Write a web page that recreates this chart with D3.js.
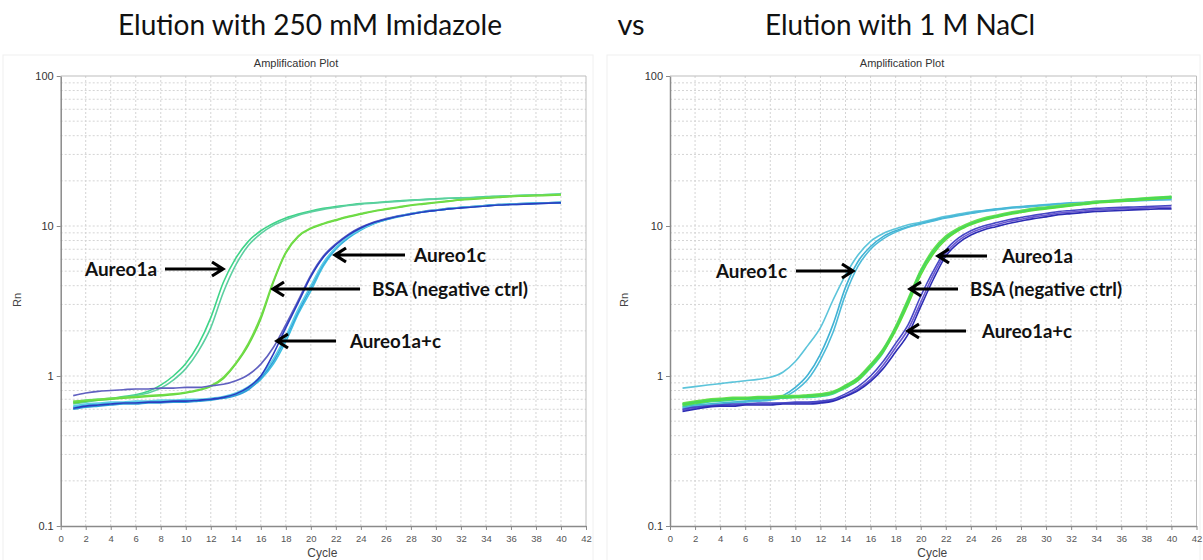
<!DOCTYPE html>
<html>
<head>
<meta charset="utf-8">
<script src="https://cdn.jsdelivr.net/npm/d3@7"></script>
<style>
  html, body { margin: 0; padding: 0; background: #fff; }
  svg { display: block; }
</style>
</head>
<body>
<svg id="chart" width="1203" height="560"></svg>
<script>
// qPCR amplification curves (Rn per cycle), two elution conditions

const cycles = d3.range(1, 41);

const xTicks = d3.range(0, 43, 2);
const yTicks = [0.1, 1, 10, 100];
const yTickLabels = ["0.1", "1", "10", "100"];

const panelTitles = ["Elution with 250 mM Imidazole", "Elution with 1 M NaCl"];
const separatorText = "vs";
const plotTitle = "Amplification Plot";
const xLabel = "Cycle";
const yLabel = "Rn";

// ---- 250 mM imidazole elution ----
const imiAureo1a_1 = [0.67,0.69,0.70,0.71,0.73,0.75,0.79,0.87,1.00,1.21,1.62,2.45,4.2,6.1,7.9,9.3,10.4,11.3,12.0,12.6,13.1,13.5,13.8,14.1,14.3,14.5,14.7,14.9,15.0,15.2,15.3,15.4,15.5,15.7,15.8,15.9,16.0,16.1,16.2,16.3];
const imiAureo1a_2 = [0.65,0.67,0.69,0.70,0.72,0.74,0.77,0.83,0.94,1.12,1.46,2.1,3.6,5.5,7.4,8.9,10.1,11.0,11.8,12.4,12.9,13.3,13.7,14.0,14.2,14.4,14.6,14.8,15.0,15.1,15.3,15.4,15.5,15.6,15.8,15.9,16.0,16.1,16.2,16.3];
const imiBSA_1 = [0.66,0.68,0.69,0.70,0.71,0.72,0.73,0.74,0.75,0.77,0.80,0.85,0.96,1.2,1.6,2.4,4.2,6.6,8.5,9.6,10.3,10.9,11.5,12.0,12.5,12.9,13.3,13.7,14.0,14.3,14.6,14.9,15.1,15.3,15.5,15.7,15.8,15.9,16.0,16.1];
const imiBSA_2 = [0.68,0.69,0.70,0.71,0.72,0.73,0.74,0.75,0.76,0.78,0.81,0.86,0.98,1.22,1.65,2.5,4.3,6.7,8.6,9.7,10.4,11.0,11.6,12.1,12.6,13.0,13.4,13.8,14.1,14.4,14.7,15.0,15.2,15.4,15.6,15.8,15.9,16.0,16.1,16.2];
const imiAureo1c_1 = [0.61,0.63,0.64,0.65,0.66,0.66,0.67,0.67,0.68,0.68,0.69,0.70,0.72,0.76,0.84,1.0,1.4,2.1,3.1,4.6,6.2,7.5,8.7,9.7,10.5,11.1,11.6,12.0,12.4,12.7,13.0,13.2,13.4,13.6,13.8,13.9,14.0,14.1,14.2,14.3];
const imiAureo1c_2 = [0.74,0.77,0.79,0.80,0.81,0.82,0.82,0.83,0.83,0.84,0.84,0.86,0.88,0.93,1.02,1.2,1.55,2.2,3.2,4.7,6.3,7.6,8.8,9.8,10.6,11.2,11.7,12.1,12.5,12.8,13.1,13.3,13.5,13.7,13.9,14.0,14.1,14.2,14.3,14.4];
const imiAureo1ac_1 = [0.62,0.64,0.65,0.66,0.66,0.67,0.67,0.68,0.68,0.69,0.69,0.70,0.72,0.75,0.82,0.95,1.2,1.7,2.6,3.7,5.4,7.0,8.3,9.4,10.3,11.0,11.5,12.0,12.4,12.7,13.0,13.3,13.5,13.7,13.9,14.0,14.1,14.2,14.3,14.4];
const imiAureo1ac_2 = [0.63,0.65,0.66,0.67,0.67,0.68,0.68,0.69,0.69,0.70,0.70,0.71,0.73,0.77,0.85,1.0,1.3,1.85,2.8,4.0,5.7,7.2,8.5,9.5,10.4,11.1,11.6,12.1,12.5,12.8,13.1,13.3,13.5,13.7,13.9,14.0,14.1,14.2,14.3,14.4];
const imiAureo1ac_3 = [0.60,0.62,0.63,0.64,0.65,0.65,0.66,0.66,0.67,0.67,0.68,0.69,0.71,0.74,0.81,0.97,1.25,1.8,2.7,3.9,5.6,7.1,8.4,9.5,10.4,11.0,11.6,12.0,12.4,12.7,13.0,13.2,13.4,13.6,13.8,13.9,14.0,14.1,14.2,14.2];

// ---- 1 M NaCl elution ----
const naclAureo1c_1 = [0.83,0.85,0.87,0.89,0.91,0.93,0.95,0.98,1.06,1.25,1.6,2.1,3.2,4.7,6.4,7.9,8.9,9.6,10.2,10.6,11.1,11.6,12.0,12.4,12.7,13.0,13.3,13.5,13.7,13.9,14.1,14.3,14.4,14.6,14.7,14.8,14.9,15.0,15.1,15.2];
const naclAureo1c_2 = [0.62,0.64,0.65,0.66,0.67,0.68,0.69,0.70,0.74,0.84,1.02,1.4,2.2,3.9,5.8,7.3,8.5,9.3,9.9,10.4,10.9,11.4,11.8,12.2,12.6,12.9,13.2,13.4,13.6,13.8,14.0,14.2,14.3,14.5,14.6,14.7,14.8,14.9,15.0,15.1];
const naclAureo1c_3 = [0.61,0.63,0.64,0.65,0.66,0.67,0.68,0.69,0.72,0.80,0.95,1.28,1.95,3.5,5.4,7.0,8.2,9.1,9.8,10.3,10.8,11.3,11.7,12.1,12.5,12.8,13.1,13.3,13.5,13.7,13.9,14.1,14.2,14.4,14.5,14.6,14.7,14.8,14.9,15.0];
const naclAureo1a_1 = [0.63,0.65,0.67,0.68,0.69,0.70,0.70,0.71,0.71,0.72,0.72,0.73,0.76,0.83,0.93,1.13,1.43,2.05,3.1,4.9,6.7,8.3,9.4,10.3,11.0,11.5,12.0,12.4,12.8,13.1,13.4,13.7,14.0,14.3,14.5,14.7,14.9,15.1,15.3,15.5];
const naclAureo1a_2 = [0.65,0.67,0.69,0.70,0.71,0.71,0.72,0.72,0.73,0.73,0.74,0.75,0.78,0.85,0.96,1.17,1.48,2.1,3.2,5.0,6.8,8.4,9.5,10.4,11.1,11.6,12.1,12.5,12.9,13.2,13.5,13.8,14.1,14.4,14.6,14.8,15.0,15.2,15.4,15.6];
const naclBSA_1 = [0.64,0.66,0.68,0.69,0.70,0.70,0.71,0.71,0.72,0.72,0.73,0.74,0.77,0.84,0.94,1.15,1.45,2.0,3.0,4.7,6.5,8.1,9.3,10.2,10.9,11.4,11.9,12.3,12.7,13.0,13.3,13.6,13.9,14.2,14.4,14.6,14.8,15.0,15.2,15.4];
const naclBSA_2 = [0.66,0.68,0.70,0.71,0.72,0.72,0.73,0.73,0.74,0.74,0.75,0.76,0.79,0.87,0.98,1.2,1.52,2.15,3.3,5.1,7.0,8.6,9.7,10.6,11.3,11.8,12.3,12.7,13.1,13.4,13.7,14.0,14.3,14.6,14.8,15.0,15.2,15.4,15.6,15.8];
const naclBSA_3 = [0.65,0.67,0.69,0.70,0.71,0.71,0.72,0.72,0.73,0.73,0.74,0.75,0.78,0.86,0.97,1.18,1.5,2.1,3.2,5.0,6.8,8.4,9.5,10.4,11.1,11.6,12.1,12.5,12.9,13.2,13.5,13.8,14.1,14.4,14.7,14.9,15.1,15.3,15.5,15.7];
const naclAureo1ac_1 = [0.58,0.60,0.62,0.63,0.63,0.64,0.64,0.64,0.65,0.65,0.65,0.66,0.68,0.73,0.80,0.92,1.12,1.45,1.9,2.9,4.4,6.3,7.7,8.7,9.4,9.9,10.4,10.8,11.2,11.5,11.9,12.1,12.3,12.5,12.6,12.7,12.8,12.9,13.0,13.0];
const naclAureo1ac_2 = [0.59,0.61,0.63,0.64,0.64,0.65,0.65,0.65,0.66,0.66,0.66,0.67,0.69,0.74,0.82,0.95,1.18,1.55,2.05,3.1,4.7,6.6,8.0,9.0,9.7,10.2,10.7,11.1,11.5,11.8,12.2,12.4,12.6,12.8,12.9,13.0,13.1,13.2,13.3,13.3];
const naclAureo1ac_3 = [0.60,0.62,0.63,0.64,0.65,0.65,0.66,0.66,0.66,0.67,0.67,0.68,0.70,0.76,0.85,1.0,1.25,1.65,2.2,3.4,5.0,6.9,8.3,9.3,10.0,10.5,11.0,11.4,11.8,12.1,12.5,12.7,12.9,13.1,13.2,13.3,13.4,13.5,13.6,13.7];

const leftSeries = [imiAureo1a_1, imiAureo1a_2, imiBSA_1, imiBSA_2, imiAureo1c_2, imiAureo1ac_1, imiAureo1ac_3, imiAureo1ac_2, imiAureo1c_1];
const rightSeries = [naclAureo1c_1, naclAureo1c_2, naclAureo1c_3, naclAureo1ac_2, naclAureo1ac_3, naclAureo1ac_1, naclAureo1a_1, naclAureo1a_2, naclBSA_1, naclBSA_2, naclBSA_3];

const leftLabels = ["Aureo1a", "Aureo1c", "BSA (negative ctrl)", "Aureo1a+c"];
const rightLabels = ["Aureo1c", "Aureo1a", "BSA (negative ctrl)", "Aureo1a+c"];

// ---- styling ----
const leftColors = ["#3ed488", "#5ccfa0", "#62d83a", "#72dc48", "#6060c0", "#3cbfe0", "#2f9ed8", "#5ccde6", "#2a3cc0"];
const rightColors = ["#5cc4da", "#40b2d4", "#4cbad8", "#6a58d0", "#4848c6", "#2c2cb4", "#3fd49a", "#4fd870", "#5ade3a", "#6ce04c", "#48d85a"];

const svg = d3.select("#chart");
svg.append("rect").attr("width", 1203).attr("height", 560).attr("fill", "#fff");

const FONT = "Liberation Sans, Arial, sans-serif";
const BIG = "Lato, 'Open Sans', sans-serif";

// headline titles
svg.append("text").attr("x", 310).attr("y", 35).attr("text-anchor", "middle")
  .attr("font-family", BIG).attr("font-size", 29).attr("fill", "#111")
  .attr("textLength", 384).attr("lengthAdjust", "spacingAndGlyphs")
  .text(panelTitles[0]);
svg.append("text").attr("x", 631).attr("y", 35).attr("text-anchor", "middle")
  .attr("font-family", BIG).attr("font-size", 29).attr("fill", "#111")
  .text(separatorText);
svg.append("text").attr("x", 900).attr("y", 35).attr("text-anchor", "middle")
  .attr("font-family", BIG).attr("font-size", 29).attr("fill", "#111")
  .attr("textLength", 270).attr("lengthAdjust", "spacingAndGlyphs")
  .text(panelTitles[1]);

function drawPanel(opt) {
  const g = svg.append("g");
  const x = d3.scaleLinear().domain([0, 42]).range([opt.x0, opt.x1]);
  const y = d3.scaleLog().domain([0.1, 100]).range([526, 76]);

  // faint panel frame
  g.append("rect").attr("x", opt.frame[0]).attr("y", 55)
    .attr("width", opt.frame[1] - opt.frame[0]).attr("height", 520)
    .attr("fill", "none").attr("stroke", "#f0f0f0");

  // grid
  const grid = g.append("g").attr("stroke", "#d4d4d4").attr("stroke-dasharray", "2,2").attr("stroke-width", 1);
  grid.selectAll("line.v").data(xTicks.filter(d => d > 0 && d < 42)).join("line")
    .attr("x1", d => x(d)).attr("x2", d => x(d)).attr("y1", y(100)).attr("y2", y(0.1));
  grid.selectAll("line.h").data(y.ticks().filter(d => d > 0.1 && d < 100)).join("line")
    .attr("x1", x(0)).attr("x2", x(42)).attr("y1", d => y(d)).attr("y2", d => y(d));

  // top / right frame
  g.append("path").attr("d", `M${x(0)},${y(100)}H${x(42)}V${y(0.1)}`)
    .attr("fill", "none").attr("stroke", "#bdbdbd");

  // curves
  const line = d3.line().x((d, i) => x(cycles[i])).y(d => y(d)).curve(d3.curveMonotoneX);
  g.append("g").selectAll("path").data(opt.series).join("path")
    .attr("d", d => line(d)).attr("fill", "none")
    .attr("stroke", (d, i) => opt.colors[i]).attr("stroke-width", 1.6);

  // axes
  const ax = g.append("g").attr("transform", `translate(0,${y(0.1)})`)
    .call(d3.axisBottom(x).tickValues(xTicks).tickSize(4).tickSizeOuter(0));
  const ay = g.append("g").attr("transform", `translate(${x(0)},0)`)
    .call(d3.axisLeft(y).tickValues(yTicks).tickFormat((d, i) => yTickLabels[i]).tickSize(4).tickSizeOuter(0));
  [ax, ay].forEach(a => {
    a.select(".domain").attr("stroke", "#8a8a8a").attr("stroke-width", 1.5);
    a.selectAll(".tick line").attr("stroke", "#8a8a8a");
  });
  ax.selectAll("text").attr("font-family", FONT).attr("font-size", 9.5).attr("fill", "#555").attr("dy", "0.9em");
  ay.selectAll("text").attr("font-family", FONT).attr("font-size", 11).attr("fill", "#333");

  g.append("text").attr("x", opt.titleX).attr("y", 67).attr("text-anchor", "middle")
    .attr("font-family", FONT).attr("font-size", 11).attr("fill", "#333").text(plotTitle);
  g.append("text").attr("x", (opt.x0 + opt.x1) / 2 - 1).attr("y", 557).attr("text-anchor", "middle")
    .attr("font-family", FONT).attr("font-size", 12).attr("fill", "#444").text(xLabel);
  g.append("text").attr("transform", `translate(${opt.yLabelX},300) rotate(-90)`).attr("text-anchor", "middle")
    .attr("font-family", FONT).attr("font-size", 11).attr("fill", "#444").text(yLabel);

  // annotations with arrows
  opt.notes.forEach((n, i) => {
    g.append("text").attr("x", n.tx).attr("y", n.ty + 7)
      .attr("font-family", BIG).attr("font-weight", "bold").attr("font-size", 19).attr("fill", "#111")
      .attr("textLength", n.tw).attr("lengthAdjust", "spacingAndGlyphs")
      .text(opt.labels[i]);
    const dir = n.head > n.tail ? 1 : -1;
    g.append("path")
      .attr("d", `M${n.tail},${n.ty}H${n.head}M${n.head - dir * 11},${n.ty - 7}L${n.head},${n.ty}L${n.head - dir * 11},${n.ty + 7}`)
      .attr("fill", "none").attr("stroke", "#000").attr("stroke-width", 3.2)
      .attr("stroke-linejoin", "miter").attr("stroke-linecap", "butt");
  });
}

drawPanel({
  x0: 60.7, x1: 586, frame: [3, 593], titleX: 296, yLabelX: 21,
  series: leftSeries, colors: leftColors, labels: leftLabels,
  notes: [
    { tx: 85, ty: 269, tw: 72, tail: 165, head: 223 },
    { tx: 414, ty: 255, tw: 72, tail: 405, head: 335 },
    { tx: 372, ty: 289, tw: 156, tail: 360, head: 273 },
    { tx: 350, ty: 341, tw: 91, tail: 336, head: 277 }
  ]
});

drawPanel({
  x0: 670, x1: 1196.5, frame: [607, 1200], titleX: 902, yLabelX: 628,
  series: rightSeries, colors: rightColors, labels: rightLabels,
  notes: [
    { tx: 716, ty: 271, tw: 71, tail: 796, head: 853 },
    { tx: 1002, ty: 256, tw: 71, tail: 987, head: 938 },
    { tx: 970, ty: 289, tw: 152, tail: 958, head: 910 },
    { tx: 982, ty: 331, tw: 90, tail: 966, head: 908 }
  ]
});
</script>
</body>
</html>
